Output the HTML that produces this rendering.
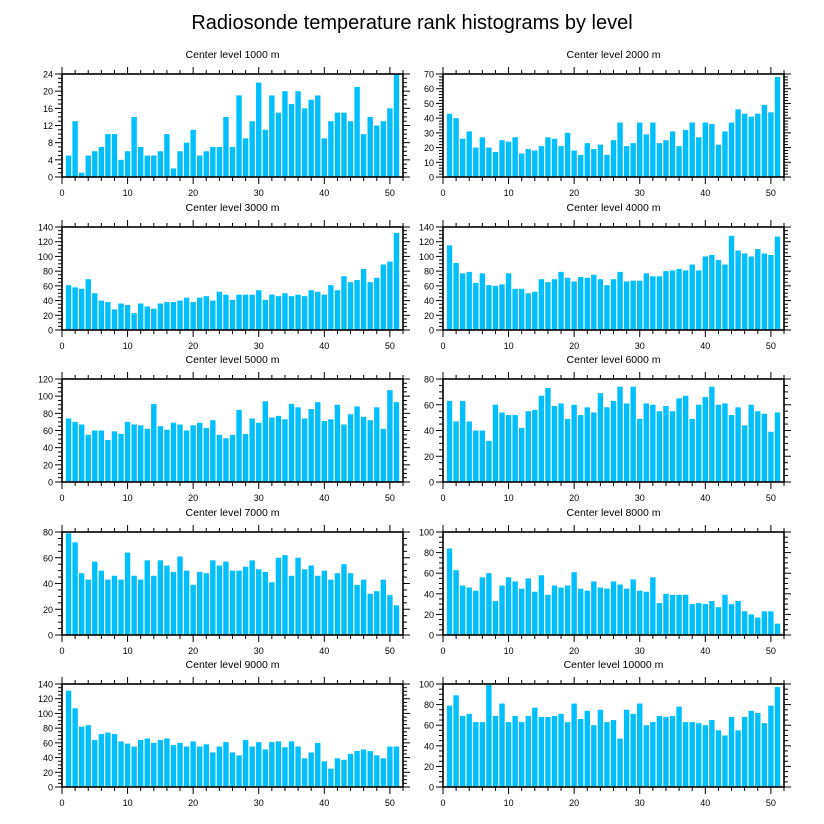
<!DOCTYPE html>
<html><head><meta charset="utf-8">
<style>
html,body{margin:0;padding:0;background:#fff;}
svg{display:block;font-family:"Liberation Sans",Arial,sans-serif;}
</style></head>
<body>
<svg id="chart" width="824" height="824" viewBox="0 0 824 824" xmlns="http://www.w3.org/2000/svg">
<rect width="824" height="824" fill="#fff"/>
<text x="412" y="29" font-size="20" text-anchor="middle" fill="#000">Radiosonde temperature rank histograms by level</text>
</svg>
<script>
const panelTitles = ["Center level 1000 m","Center level 2000 m","Center level 3000 m","Center level 4000 m","Center level 5000 m","Center level 6000 m","Center level 7000 m","Center level 8000 m","Center level 9000 m","Center level 10000 m"];
const yMax = [24,70,140,140,120,80,80,100,140,100];
const yStep = [4,10,20,20,20,20,20,20,20,20];
const yMinorPerMajor = [4,5,4,4,4,4,4,4,4,4];
const xTicks = [0,10,20,30,40,50];
const ranks = [1,2,3,4,5,6,7,8,9,10,11,12,13,14,15,16,17,18,19,20,21,22,23,24,25,26,27,28,29,30,31,32,33,34,35,36,37,38,39,40,41,42,43,44,45,46,47,48,49,50,51];
const counts1000 = [5,13,1,5,6,7,10,10,4,6,14,7,5,5,6,10,2,6,8,11,5,6,7,7,14,7,19,9,13,22,11,19,15,20,17,20,16,18,19,9,13,15,15,13,21,10,14,12,13,16,24];
const counts2000 = [43,40,26,31,20,27,20,17,25,24,27,16,19,18,21,27,26,21,30,18,15,23,19,22,15,25,37,21,23,37,29,37,23,25,31,21,32,37,27,37,36,22,31,37,46,43,41,43,49,44,68];
const counts3000 = [61,58,56,69,50,40,38,28,36,34,23,36,32,29,36,38,38,40,44,38,44,46,40,52,48,41,48,48,48,54,41,48,46,50,46,48,46,54,52,48,61,54,73,65,68,83,65,71,89,93,132];
const counts4000 = [115,91,77,79,64,77,61,60,62,77,56,56,50,52,69,65,69,79,71,66,72,71,75,69,61,69,79,66,67,67,77,73,73,80,81,83,81,89,81,100,102,95,89,128,108,104,100,110,104,102,127];
const counts5000 = [74,70,67,55,60,60,49,59,56,70,67,66,62,91,65,61,69,67,60,66,69,63,72,55,51,55,84,56,74,69,94,75,77,73,91,87,74,85,93,71,73,90,67,79,88,76,72,87,62,107,93];
const counts6000 = [63,47,63,47,40,40,32,60,54,52,52,42,55,56,67,73,59,61,49,60,52,58,54,69,58,63,74,61,74,49,61,60,55,59,55,65,67,49,60,66,74,60,61,52,58,44,60,55,53,39,54];
const counts7000 = [79,72,48,43,57,50,43,46,43,64,46,43,58,46,58,54,49,61,50,39,49,48,58,54,57,50,50,53,58,51,49,41,60,62,46,60,51,54,46,50,43,48,55,48,39,43,32,34,43,31,23];
const counts8000 = [84,63,48,46,43,56,60,33,48,56,52,45,55,42,58,39,48,46,48,61,45,43,52,46,45,52,49,45,54,43,42,56,31,40,39,39,39,30,31,30,33,27,39,30,33,23,20,17,23,23,11];
const counts9000 = [131,107,82,84,64,72,74,72,62,59,55,64,66,60,64,66,57,60,55,62,55,58,47,55,61,47,43,64,55,61,51,61,62,54,62,55,39,47,60,35,25,39,37,45,49,51,49,43,39,55,55];
const counts10000 = [79,89,69,71,63,63,99,69,81,63,69,63,69,77,68,68,69,71,63,81,66,74,60,75,63,65,47,75,71,81,60,63,69,68,69,78,63,63,62,60,65,55,50,68,55,68,74,72,62,79,97];
const allCounts = [counts1000,counts2000,counts3000,counts4000,counts5000,counts6000,counts7000,counts8000,counts9000,counts10000];

const NS = "http://www.w3.org/2000/svg";
const svg = document.getElementById('chart');
function mk(tag, attrs, parent){const e=document.createElementNS(NS,tag);for(const k in attrs)e.setAttribute(k,attrs[k]);(parent||svg).appendChild(e);return e;}
const colLeft=[62,443], plotW=341, plotH=103;
const rowTop=[74,227,379,532,684];
const X_MAX=52;
for(let p=0;p<10;p++){
  const L=colLeft[p%2], T=rowTop[Math.floor(p/2)], B=T+plotH, R=L+plotW;
  const g=mk('g',{});
  
  
  const xs=v=>L+v/X_MAX*plotW;
  const ys=v=>B-v/yMax[p]*plotH;
  const t=mk('text',{x:(L+R)/2,y:T-16,'font-size':'10.5','text-anchor':'middle',fill:'#000'},g);
  t.textContent=panelTitles[p];
  
  
  const data=allCounts[p];
  for(let i=0;i<ranks.length;i++){
    const bw=0.82/X_MAX*plotW;
    const r=mk('rect',{x:xs(ranks[i])-bw/2,y:ys(data[i]),width:bw,height:B-ys(data[i]),fill:'#00bfff'},g);
    
    
  }
  // frame
  const fr=mk('rect',{x:L,y:T,width:plotW,height:plotH,fill:'none',stroke:'#000','stroke-width':'1.6'},g);
  
  
  // x ticks
  for(let v=0;v<=X_MAX;v+=2){
    const major=v%10===0, len=major?7:4, x=xs(v);
    mk('line',{x1:x,x2:x,y1:B,y2:B+len,stroke:'#000','stroke-width':1},g);
    mk('line',{x1:x,x2:x,y1:T,y2:T-len,stroke:'#000','stroke-width':1},g);
  }
  for(const v of xTicks){
    const tx=mk('text',{x:xs(v),y:B+19,'font-size':'9','text-anchor':'middle',fill:'#000'},g);
    tx.textContent=v;
    
    
  }
  // y ticks
  const minor=yStep[p]/yMinorPerMajor[p];
  for(let v=0;v<=yMax[p]+1e-9;v+=minor){
    const major=Math.abs(v/yStep[p]-Math.round(v/yStep[p]))<1e-6, len=major?7:4, y=ys(v);
    mk('line',{x1:L,x2:L-len,y1:y,y2:y,stroke:'#000','stroke-width':1},g);
    mk('line',{x1:R,x2:R+len,y1:y,y2:y,stroke:'#000','stroke-width':1},g);
  }
  for(let v=0;v<=yMax[p];v+=yStep[p]){
    const ty=mk('text',{x:L-9,y:ys(v)+3.5,'font-size':'9','text-anchor':'end',fill:'#000'},g);
    ty.textContent=v;
    
    
  }
}
</script>
</body></html>
